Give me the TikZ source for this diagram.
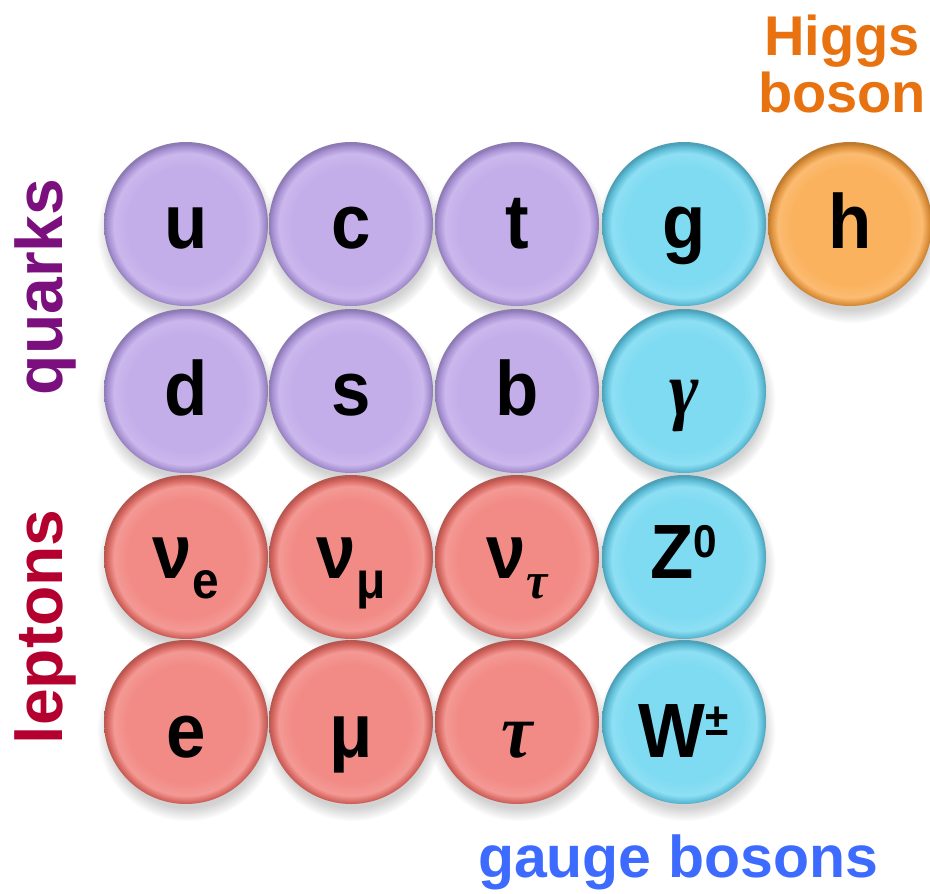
\documentclass[tikz,border=0pt]{standalone}
\usepackage{fontspec}
\usepackage{graphicx}
\setmainfont{Liberation Sans}
\newfontfamily\gk{Liberation Serif}
\usetikzlibrary{shadows}
\definecolor{qbase}{HTML}{C4AEEA}
\definecolor{qedge}{HTML}{A690D2}
\definecolor{bbase}{HTML}{7FDBF2}
\definecolor{bedge}{HTML}{5CBCD6}
\definecolor{lbase}{HTML}{F28B86}
\definecolor{ledge}{HTML}{D6665F}
\definecolor{hbase}{HTML}{FBB25E}
\definecolor{hedge}{HTML}{DD903A}
\definecolor{quarkc}{HTML}{7A0F7D}
\definecolor{leptonc}{HTML}{B3002E}
\definecolor{gaugec}{HTML}{3D6BFF}
\definecolor{higgsc}{HTML}{E8720F}
\pgfdeclareradialshading{qshade}{\pgfpoint{0bp}{-0.8bp}}{color(0bp)=(qbase); color(18bp)=(qbase); color(22bp)=(qbase!88!white); color(24bp)=(qedge); color(25bp)=(qedge!85!black); color(50bp)=(qedge!85!black)}
\pgfdeclareradialshading{bshade}{\pgfpoint{0bp}{-0.8bp}}{color(0bp)=(bbase); color(18bp)=(bbase); color(22bp)=(bbase!88!white); color(24bp)=(bedge); color(25bp)=(bedge!85!black); color(50bp)=(bedge!85!black)}
\pgfdeclareradialshading{lshade}{\pgfpoint{0bp}{-0.8bp}}{color(0bp)=(lbase); color(18bp)=(lbase); color(22bp)=(lbase!88!white); color(24bp)=(ledge); color(25bp)=(ledge!85!black); color(50bp)=(ledge!85!black)}
\pgfdeclareradialshading{hshade}{\pgfpoint{0bp}{-0.8bp}}{color(0bp)=(hbase); color(18bp)=(hbase); color(22bp)=(hbase!88!white); color(24bp)=(hedge); color(25bp)=(hedge!85!black); color(50bp)=(hedge!85!black)}
\newcommand{\bt}[1]{\scalebox{0.92}[1]{#1}}
\newcommand{\subs}[1]{\raisebox{-20pt}{\fontsize{52}{52}\selectfont #1}}
\newcommand{\sups}[2]{\raisebox{#1}{\fontsize{46}{46}\selectfont #2}}
\newcommand{\gkl}[1]{{\gk\bfseries\itshape #1}}
\tikzset{
  ball/.style={circle, minimum size=164pt, inner sep=0pt, text=black,
    font=\fontsize{77}{77}\selectfont\bfseries, text height=48pt, text depth=0pt,
    circular drop shadow={shadow xshift=1pt, shadow yshift=-8pt, opacity=.35}},
  low/.style={text height=70pt},
  mid/.style={text height=42pt},
  quark/.style={ball, shading=qshade},
  boson/.style={ball, shading=bshade},
  lepton/.style={ball, shading=lshade},
  higgs/.style={ball, shading=hshade},
  lab/.style={font=\fontsize{66}{66}\selectfont\bfseries, inner sep=0pt}
}
\begin{document}
\begin{tikzpicture}[x=1pt,y=-1pt]
\useasboundingbox[fill=white] (0,0) rectangle (930,894);
% row 1
\node[quark] (u) at (186,224) {\bt{u}};
\node[quark] (c) at (351,224) {\bt{c}};
\node[quark] (t) at (517,224) {\bt{t}};
\node[boson] (g) at (684,224) {\bt{g}};
\node[higgs] (h) at (850,224) {\bt{h}};
% row 2
\node[quark] (d) at (186,391) {\bt{d}};
\node[quark] (s) at (351,391) {\bt{s}};
\node[quark] (b) at (517,391) {\bt{b}};
\node[boson] (gamma) at (684,391) {\bt{\gkl{γ}}};
% row 3
\node[lepton, mid] (nue) at (186,557) {\bt{ν\subs{e}}};
\node[lepton, mid] (numu) at (351,557) {\bt{ν\subs{μ}}};
\node[lepton, mid] (nutau) at (517,557) {\bt{ν\subs{\gkl{τ}}}};
\node[boson, mid] (Z) at (684,557) {\bt{Z\sups{21pt}{0}}};
% row 4
\node[lepton, low] (e) at (186,722) {\bt{e}};
\node[lepton, low] (mu) at (351,722) {\bt{μ}};
\node[lepton, low] (tau) at (517,722) {\bt{\gkl{τ}}};
\node[boson, low] (W) at (684,722) {\bt{W\sups{22pt}{±}}};
% labels
\node[lab, rotate=90, text=quarkc] (quarks) at (45,287) {quarks};
\node[lab, rotate=90, text=leptonc] (leptons) at (45,627) {leptons};
\node[lab, text=gaugec, font=\fontsize{59}{59}\selectfont\bfseries] (gauge) at (678,862) {gauge bosons};
\node[lab, text=higgsc, align=center, font=\fontsize{56}{57}\selectfont\bfseries] (higgslab) at (842,64) {Higgs\\boson};
\end{tikzpicture}
\end{document}
